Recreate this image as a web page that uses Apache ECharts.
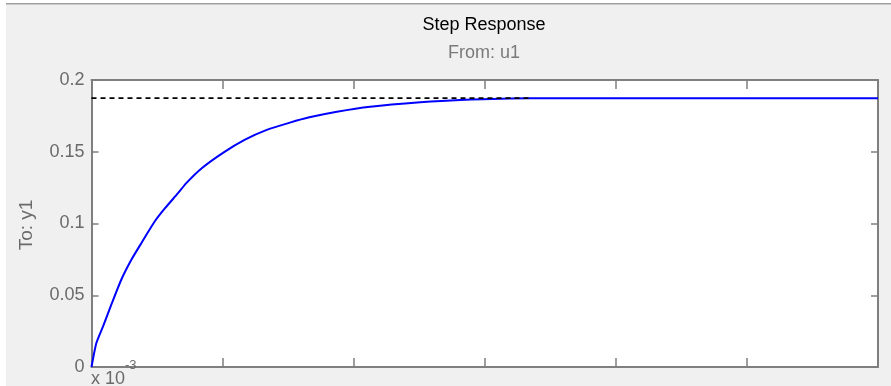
<!DOCTYPE html>
<html>
<head>
<meta charset="utf-8">
<script src="https://cdn.jsdelivr.net/npm/echarts@6/dist/echarts.min.js"></script>
<style>html,body{margin:0;padding:0;background:#f0f0f0;}#c{width:891px;height:386px;}</style>
</head>
<body>
<div id="c"></div>
<script>
// Time in units of 1e-3 s
const timeVals = [0, 0.037, 0.088, 0.151, 0.227, 0.304, 0.380, 0.482, 0.561, 0.660, 0.723, 0.841, 1.006, 1.171, 1.337, 1.514, 1.662, 1.872, 2.126, 2.508, 2.813, 3.347, 6];
const respVals = [0, 0.0167, 0.0283, 0.0434, 0.0608, 0.0747, 0.0863, 0.1014, 0.1107, 0.1211, 0.1281, 0.1385, 0.1494, 0.1584, 0.1652, 0.1703, 0.1740, 0.1779, 0.1814, 0.1845, 0.1861, 0.1873, 0.1873];
const steadyTime = [0, 3.347];
const steadyVal = 0.1873;
const yTicks = [0, 0.05, 0.1, 0.15, 0.2];
const xTicks = [0, 1, 2, 3, 4, 5, 6];

const FONT = '"Liberation Sans", Arial, sans-serif';
const AX = '#7f7f7f';
const LBL = '#6a6a6a';

const chart = echarts.init(document.getElementById('c'), null, {renderer: 'canvas'});

const xBase = {
  type: 'value', min: xTicks[0], max: xTicks[xTicks.length - 1], interval: 1,
  axisLine: {show: true, onZero: false, lineStyle: {color: AX, width: 2}},
  axisTick: {show: true, inside: true, length: 9, lineStyle: {color: AX, width: 1.5}},
  axisLabel: {show: false}, splitLine: {show: false}
};
const yBase = {
  type: 'value', min: yTicks[0], max: yTicks[yTicks.length - 1], interval: 0.05,
  axisLine: {show: true, onZero: false, lineStyle: {color: AX, width: 2}},
  axisTick: {show: true, inside: true, length: 7, lineStyle: {color: AX, width: 1.5}},
  splitLine: {show: false}
};

chart.setOption({
  backgroundColor: '#f0f0f0',
  animation: false,
  grid: {left: 91.5, top: 80, right: 13, bottom: 19, show: true, backgroundColor: '#ffffff', borderWidth: 0},
  xAxis: [
    Object.assign({}, xBase, {position: 'bottom'}),
    Object.assign({}, xBase, {position: 'top'})
  ],
  yAxis: [
    Object.assign({}, yBase, {position: 'left',
      axisLabel: {show: true, color: LBL, fontSize: 18, fontFamily: FONT, margin: 7,
        formatter: v => (Math.round(v * 100) / 100).toString()}}),
    Object.assign({}, yBase, {position: 'right', axisLabel: {show: false}})
  ],
  series: [
    {
      type: 'line', xAxisIndex: 0, yAxisIndex: 0,
      data: timeVals.map((t, i) => [t, respVals[i]]),
      showSymbol: false, symbol: 'none', smooth: 0.2,
      lineStyle: {color: '#0000ff', width: 2}, z: 2
    },
    {
      type: 'line', xAxisIndex: 0, yAxisIndex: 0,
      data: steadyTime.map(t => [t, steadyVal]),
      showSymbol: false, symbol: 'none',
      lineStyle: {color: '#000000', width: 1.8, type: [5, 4]}, z: 3
    }
  ],
  graphic: [
    {type: 'rect', left: 0, top: 0, shape: {width: 6, height: 386}, style: {fill: '#ffffff'}, silent: true},
    {type: 'rect', left: 0, top: 0, shape: {width: 891, height: 3}, style: {fill: '#ffffff'}, silent: true},
    {type: 'rect', left: 6, top: 3, shape: {width: 885, height: 1.5}, style: {fill: '#a0a0a0'}, silent: true},
    {type: 'text', x: 484, y: 25, style: {text: 'Step Response', fill: '#000000', font: '18px ' + FONT,
      align: 'center', verticalAlign: 'middle', textAlign: 'center', textVerticalAlign: 'middle'}},
    {type: 'text', x: 484, y: 53, style: {text: 'From: u1', fill: '#7a7a7a', font: '18px ' + FONT,
      align: 'center', verticalAlign: 'middle', textAlign: 'center', textVerticalAlign: 'middle'}},
    {type: 'text', x: 27, y: 225, rotation: Math.PI / 2, style: {text: 'To: y1', fill: LBL, font: '19px ' + FONT,
      align: 'center', verticalAlign: 'middle', textAlign: 'center', textVerticalAlign: 'middle'}},
    {type: 'text', x: 91, y: 370, style: {text: 'x 10', fill: LBL, font: '18px ' + FONT,
      align: 'left', verticalAlign: 'top', textAlign: 'left', textVerticalAlign: 'top'}},
    {type: 'text', x: 125, y: 359, z: 100, style: {text: '-3', fill: LBL, font: '13px ' + FONT,
      align: 'left', verticalAlign: 'top', textAlign: 'left', textVerticalAlign: 'top'}}
  ]
});
</script>
</body>
</html>
